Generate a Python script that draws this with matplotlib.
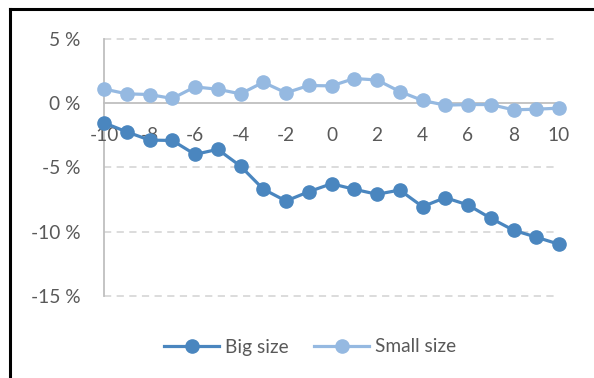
import matplotlib
matplotlib.use("Agg")
import matplotlib.pyplot as plt
from matplotlib.lines import Line2D
from matplotlib.transforms import offset_copy

plt.rcParams['font.family'] = ['Lato', 'DejaVu Sans']

# Event window (days) and cumulative returns (%)
days = list(range(-10, 11))
big_size = [-1.55, -2.25, -2.89, -2.92, -4.00, -3.61, -4.91, -6.70, -7.62, -6.90,
            -6.28, -6.71, -7.10, -6.77, -8.06, -7.36, -7.93, -8.96, -9.89, -10.43, -10.98]
small_size = [1.08, 0.70, 0.65, 0.34, 1.24, 1.06, 0.70, 1.60, 0.78, 1.35,
              1.32, 1.89, 1.78, 0.88, 0.19, -0.18, -0.13, -0.13, -0.54, -0.49, -0.41]
series_names = ["Big size", "Small size"]
x_ticks = list(range(-10, 11, 2))
y_ticks = [5, 0, -5, -10, -15]
y_tick_labels = ["5 %", "0 %", "-5 %", "-10 %", "-15 %"]

W, H = 594, 378
fig = plt.figure(figsize=(W / 100, H / 100), dpi=100)
ax = fig.add_axes([104 / W, 1 - 296 / H, (559 - 104) / W, (296 - 38.5) / H])

text_color = "#595959"
big_color = "#4A86BF"
small_color = "#95B9E1"
fs = 13.8

ax.set_xlim(-10, 10)
ax.set_ylim(-15, 5)

# dashed horizontal gridlines, solid zero line
grid_end = (555 - 104) / (559 - 104)
for y in y_ticks:
    if y == 0:
        continue
    ax.axhline(y, xmin=0, xmax=grid_end, color="#D9D9D9", lw=1.3,
               dashes=(4, 3), zorder=1, clip_on=False)
ax.axhline(0, xmin=0, xmax=grid_end, color="#BFBFBF", lw=1.3, zorder=2, clip_on=False)

for s in ["top", "right", "bottom"]:
    ax.spines[s].set_visible(False)
ax.spines["left"].set_color("#BFBFBF")
ax.spines["left"].set_linewidth(1.3)

ax.plot(days, big_size, color=big_color, lw=2.3, marker="o", ms=9.5,
        label=series_names[0], zorder=4, clip_on=False)
ax.plot(days, small_size, color=small_color, lw=2.3, marker="o", ms=9.5,
        label=series_names[1], zorder=3, clip_on=False)

ax.set_yticks(y_ticks)
ax.set_yticklabels(y_tick_labels)
ax.set_xticks([])
ax.tick_params(axis="both", length=0, labelsize=fs, colors=text_color)
ax.tick_params(axis="y", pad=17)

# x labels hang just below the zero line
label_trans = offset_copy(ax.transData, fig=fig, x=0, y=-24, units="dots")
for v in x_ticks:
    ax.text(v, 0, str(v), transform=label_trans, ha="center", va="top",
            fontsize=fs, color=text_color)

fig.legend(loc="center", bbox_to_anchor=(310 / W, 1 - 347 / H), ncol=2,
           frameon=False, fontsize=fs, handlelength=2.9, columnspacing=1.3,
           handletextpad=0.3, labelcolor=text_color)

# chart frame on the left and top edges
fig.add_artist(Line2D([10 / W, 10 / W], [0, 1 - 9 / H], color="black", lw=2.2,
                      transform=fig.transFigure))
fig.add_artist(Line2D([10 / W, 1], [1 - 9 / H, 1 - 9 / H], color="black", lw=2.2,
                      transform=fig.transFigure))

fig.savefig("out.png", dpi=100)
